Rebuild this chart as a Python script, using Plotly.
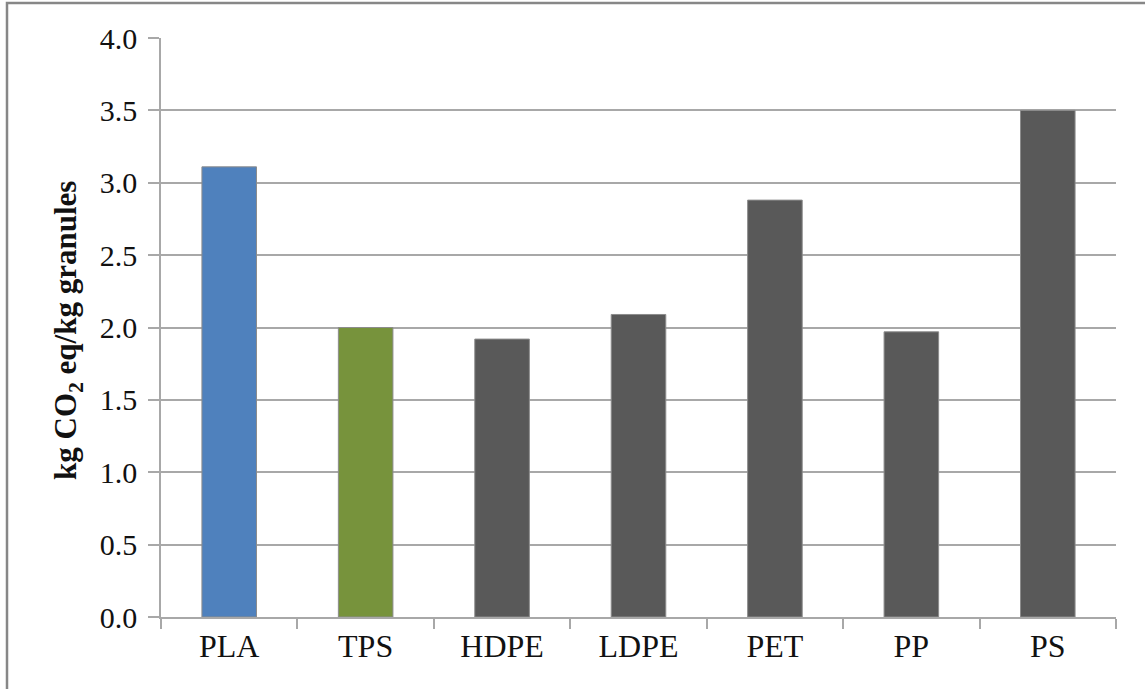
import plotly.graph_objects as go

# Carbon footprint of polymer granules
materials = ["PLA", "TPS", "HDPE", "LDPE", "PET", "PP", "PS"]
co2_per_kg = [3.11, 2.00, 1.92, 2.09, 2.88, 1.97, 3.50]
bar_colors = ["#4f81bd", "#77933c", "#595959", "#595959", "#595959", "#595959", "#595959"]

y_ticks = [0.0, 0.5, 1.0, 1.5, 2.0, 2.5, 3.0, 3.5, 4.0]

W, H = 1145, 689
L, R, T, B = 161, 29, 38, 72
pw, ph = W - L - R, H - T - B

grid_col = "#a8a8a8"
serif = "Liberation Serif, Times New Roman, serif"

fig = go.Figure(
    go.Bar(
        x=materials,
        y=co2_per_kg,
        marker=dict(color=bar_colors, line=dict(color="#8c8c8c", width=1)),
        width=0.4,
    )
)

fig.update_layout(
    width=W,
    height=H,
    margin=dict(l=L, r=R, t=T, b=B),
    paper_bgcolor="white",
    plot_bgcolor="white",
    showlegend=False,
    font=dict(family=serif, color="#111111"),
)

fig.update_xaxes(
    type="category",
    tickson="boundaries",
    ticks="outside",
    ticklen=10,
    tickwidth=1.5,
    tickcolor=grid_col,
    showline=True,
    linecolor=grid_col,
    linewidth=1.5,
    showgrid=False,
    tickfont=dict(size=32, family=serif, color="#111111"),
    ticklabelstandoff=0,
)

fig.update_yaxes(
    range=[0, 4],
    tickvals=y_ticks,
    ticktext=[f"{v:.1f}" for v in y_ticks],
    ticks="outside",
    ticklen=11,
    tickwidth=1.5,
    tickcolor=grid_col,
    showline=True,
    linecolor=grid_col,
    linewidth=1.5,
    showgrid=True,
    gridcolor=grid_col,
    gridwidth=1.5,
    zeroline=False,
    tickfont=dict(size=30, family=serif, color="#111111"),
    ticklabelstandoff=5,
)

# Rotated axis title with subscript
fig.add_annotation(
    text="<b>kg CO<sub>2</sub> eq/kg granules</b>",
    xref="paper", yref="paper",
    x=(68 - L) / pw, y=(H - B - 331) / ph,
    xanchor="center", yanchor="middle",
    textangle=-90,
    showarrow=False,
    font=dict(size=31, family=serif, color="#111111"),
)

# Outer chart frame
fig.add_shape(
    type="rect",
    xref="paper", yref="paper",
    x0=(7 - L) / pw, x1=(W + 20 - L) / pw,
    y0=(H - B - (H + 20)) / ph, y1=(H - B - 3) / ph,
    line=dict(color="#878787", width=2.5),
    fillcolor="rgba(0,0,0,0)",
    layer="below",
)

fig.write_html("out.html")
